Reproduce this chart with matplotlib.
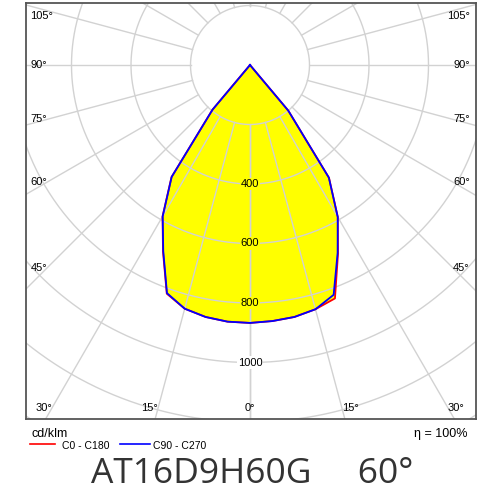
import numpy as np
import matplotlib.pyplot as plt

# luminous intensity (cd/klm) against angle from nadir, one list per half plane
angles = [0, 5, 10, 15, 20, 25, 30, 35, 40, 45, 90, 180]
c0 = [867, 864, 860, 850, 835, 700, 590, 463, 200, 0, 0, 0]
c180 = [867, 866, 860, 848, 818, 692, 588, 460, 196, 0, 0, 0]
c90 = [867, 864, 860, 850, 822, 697, 590, 462, 200, 0, 0, 0]
c270 = [867, 866, 860, 848, 816, 690, 587, 459, 196, 0, 0, 0]

ring_values = [200, 400, 600, 800, 1000, 1200, 1400, 1600]
ring_labels = [400, 600, 800, 1000]
spoke_angles = list(range(0, 181, 15))
angle_labels = [0, 15, 30, 45, 60, 75, 90, 105]

title = "AT16D9H60G     60\u00b0"
unit = "cd/klm"
eta = "\u03b7 = 100%"
legend_names = ["C0 - C180", "C90 - C270"]

# layout: pixel position of the pole and pixel per cd
W, H = 500, 500
cx, cy = 250, 65
k = 0.2975
box = (26, 3, 476, 419)  # left, top, right, bottom in px

fig = plt.figure(figsize=(5, 5), dpi=100)
ax = fig.add_axes([box[0] / W, 1 - box[3] / H, (box[2] - box[0]) / W, (box[3] - box[1]) / H])
ax.set_xlim((box[0] - cx) / k, (box[2] - cx) / k)
ax.set_ylim(-(box[3] - cy) / k, (cy - box[1]) / k)
ax.set_xticks([])
ax.set_yticks([])
for sp in ax.spines.values():
    sp.set_color('#555555')
    sp.set_linewidth(1.3)


def curve(left, right):
    a = np.radians(angles)
    l = np.array(left, float)
    r = np.array(right, float)
    xl, yl = -l * np.sin(a), -l * np.cos(a)
    xr, yr = r * np.sin(a), -r * np.cos(a)
    return np.r_[xl[::-1], xr], np.r_[yl[::-1], yr]


x1, y1 = curve(c180, c0)
x2, y2 = curve(c270, c90)

ax.fill(x1, y1, color='#ffff00', zorder=1, lw=0)

grid_c = '#d2d2d2'
t = np.linspace(0, 2 * np.pi, 721)
for rv in ring_values:
    ax.plot(rv * np.sin(t), rv * np.cos(t), color=grid_c, lw=1, zorder=2)
for a in spoke_angles:
    ar = np.radians(a)
    for s in (-1, 1):
        ax.plot([s * 200 * np.sin(ar), s * 3000 * np.sin(ar)],
                [-200 * np.cos(ar), -3000 * np.cos(ar)], color=grid_c, lw=1, zorder=2)

# ring values along the 0 deg spoke
for rv in ring_labels:
    bg = '#ffff00' if rv < c0[0] else 'white'
    ax.text(0, -rv, str(rv), ha='center', va='center', fontsize=8,
            family='Liberation Sans', zorder=3,
            bbox=dict(boxstyle='square,pad=0.1', fc=bg, ec='none'))

# angle labels on an inner rectangle
xin = (cx - 47) / k
yin = (408 - cy) / k
ytop = (cy - 16) / k
for a in angle_labels:
    ar = np.radians(a)
    sides = (0,) if a == 0 else (-1, 1)
    for s in sides:
        t1 = xin / np.sin(ar) if a else np.inf
        t2 = yin / np.cos(ar) if np.cos(ar) > 1e-9 else np.inf
        tt = min(t1, t2)
        px = s * tt * np.sin(ar)
        py = -tt * np.cos(ar)
        if py > ytop:
            py = ytop
            px -= s * 6 / k
        ha = 'center' if s == 0 else ('right' if s < 0 else 'left')
        ax.text(px, py, f"{a}\u00b0", ha=ha, va='center', fontsize=8,
                family='Liberation Sans', zorder=3, clip_on=True)

ax.plot(x1, y1, color='#ff0000', lw=1.3, zorder=4)
ax.plot(x2, y2, color='#0000ff', lw=1.3, zorder=5)

# text below the diagram
fig.text(31 / W, 1 - 437 / H, unit, fontsize=9, family='Liberation Sans', va='baseline')
fig.text(468 / W, 1 - 437 / H, eta, fontsize=9, family='Liberation Sans', va='baseline', ha='right')
fig.add_artist(plt.Line2D([30 / W, 55 / W], [1 - 444 / H] * 2, color='#ff0000', lw=1.2))
fig.add_artist(plt.Line2D([120 / W, 150 / W], [1 - 444 / H] * 2, color='#0000ff', lw=1.2))
fig.text(62 / W, 1 - 449 / H, legend_names[0], fontsize=7.5, family='Liberation Sans', va='baseline')
fig.text(153 / W, 1 - 449 / H, legend_names[1], fontsize=7.5, family='Liberation Sans', va='baseline')
fig.text(252 / W, 1 - 483 / H, title, fontsize=25.5, family='Open Sans', color='#333333',
         ha='center', va='baseline')

fig.savefig('out.png', dpi=100)
